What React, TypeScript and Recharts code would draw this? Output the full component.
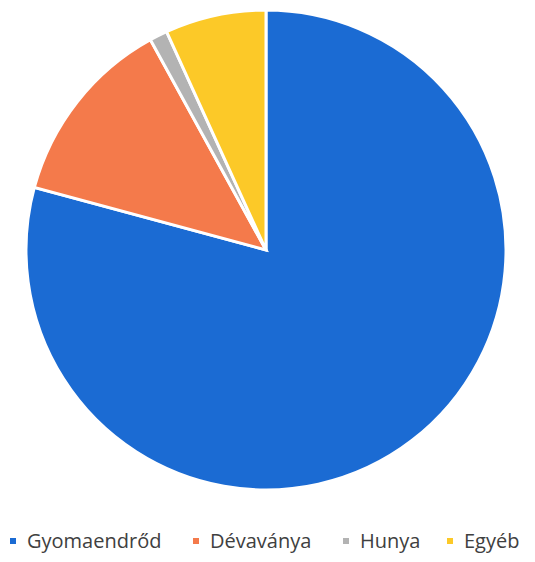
import { Cell, Pie, PieChart } from "recharts";

const names = ["Gyomaendrőd", "Dévaványa", "Hunya", "Egyéb"];
const shares = [79.2, 12.8, 1.2, 6.8];
const colors = ["#1b6bd3", "#f47a4b", "#b3b3b3", "#fcc928"];
const legendLeft = [10, 193, 343, 447];

const data = names.map((name, i) => ({ name, value: shares[i] }));

export default function App() {
  return (
    <div style={{ position: "absolute", left: 0, top: 0, width: 535, height: 562, background: "#fff" }}>
      <PieChart width={535} height={562} margin={{ top: 0, right: 0, bottom: 0, left: 0 }}>
        <Pie
          data={data}
          dataKey="value"
          nameKey="name"
          cx={266}
          cy={250}
          outerRadius={240}
          startAngle={90}
          endAngle={-270}
          stroke="#ffffff"
          strokeWidth={3}
          isAnimationActive={false}
        >
          {data.map((d, i) => (
            <Cell key={d.name} fill={colors[i]} />
          ))}
        </Pie>
      </PieChart>
      {names.map((name, i) => (
        <div
          key={name}
          style={{
            position: "absolute",
            left: legendLeft[i],
            top: 527,
            display: "flex",
            alignItems: "center",
            fontFamily: "'Open Sans', sans-serif",
            fontSize: 20,
            color: "#404040",
            whiteSpace: "nowrap",
          }}
        >
          <span style={{ width: 6, height: 6, background: colors[i], marginRight: 11, display: "inline-block" }} />
          {name}
        </div>
      ))}
    </div>
  );
}
